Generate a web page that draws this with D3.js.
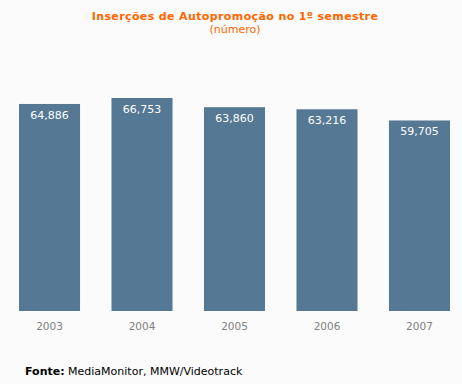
<!DOCTYPE html>
<html>
<head>
<meta charset="utf-8">
<script src="https://cdn.jsdelivr.net/npm/d3@7"></script>
<style>
  body { margin: 0; background: #fbfbfb; }
  svg { display: block; font-family: "DejaVu Sans", Verdana, sans-serif; }
</style>
</head>
<body>
<svg id="chart"></svg>
<script>
const years = ['2003', '2004', '2005', '2006', '2007'];
const insercoes = [64886, 66753, 63860, 63216, 59705];

const width = 462, height = 384;
const svg = d3.select('#chart')
    .attr('width', width)
    .attr('height', height);

svg.append('rect')
    .attr('width', width).attr('height', height)
    .attr('fill', '#fbfbfb');

const x = d3.scaleBand()
    .domain(years)
    .range([19, 450])
    .paddingInner(0.34)
    .paddingOuter(0);

const y = d3.scaleLinear()
    .domain([0, d3.max(insercoes)])
    .range([311, 98]);

const fmt = d3.format(',');

// title
svg.append('text')
    .attr('x', 235).attr('y', 20)
    .attr('text-anchor', 'middle')
    .attr('font-size', '11px')
    .attr('font-weight', 'bold')
    .attr('letter-spacing', '0.38px')
    .attr('fill', '#ff6600')
    .text('Inserções de Autopromoção no 1º semestre');

svg.append('text')
    .attr('x', 235).attr('y', 33)
    .attr('text-anchor', 'middle')
    .attr('font-size', '11px')
    .attr('fill', '#ff6600')
    .text('(número)');

const bars = svg.append('g')
    .selectAll('g')
    .data(years)
    .enter().append('g');

bars.append('rect')
    .attr('x', d => x(d))
    .attr('y', (d, i) => y(insercoes[i]))
    .attr('width', x.bandwidth())
    .attr('height', (d, i) => y(0) - y(insercoes[i]))
    .attr('fill', '#557894');

bars.append('text')
    .attr('x', d => x(d) + x.bandwidth() / 2)
    .attr('y', (d, i) => y(insercoes[i]) + 15)
    .attr('text-anchor', 'middle')
    .attr('font-size', '11px')
    .attr('fill', '#ffffff')
    .text((d, i) => fmt(insercoes[i]));

// x axis
const xAxis = svg.append('g')
    .attr('transform', 'translate(0,311)')
    .call(d3.axisBottom(x).tickSize(0).tickPadding(12));
xAxis.select('.domain').remove();
xAxis.selectAll('text')
    .attr('font-family', '"DejaVu Sans", Verdana, sans-serif')
    .attr('font-size', '10.5px')
    .attr('fill', '#808080');

// source
const src = svg.append('text')
    .attr('x', 25).attr('y', 375)
    .attr('font-size', '11px')
    .attr('fill', '#000');
src.append('tspan').attr('font-weight', 'bold').text('Fonte:');
src.append('tspan').text(' MediaMonitor, MMW/Videotrack');
</script>
</body>
</html>
